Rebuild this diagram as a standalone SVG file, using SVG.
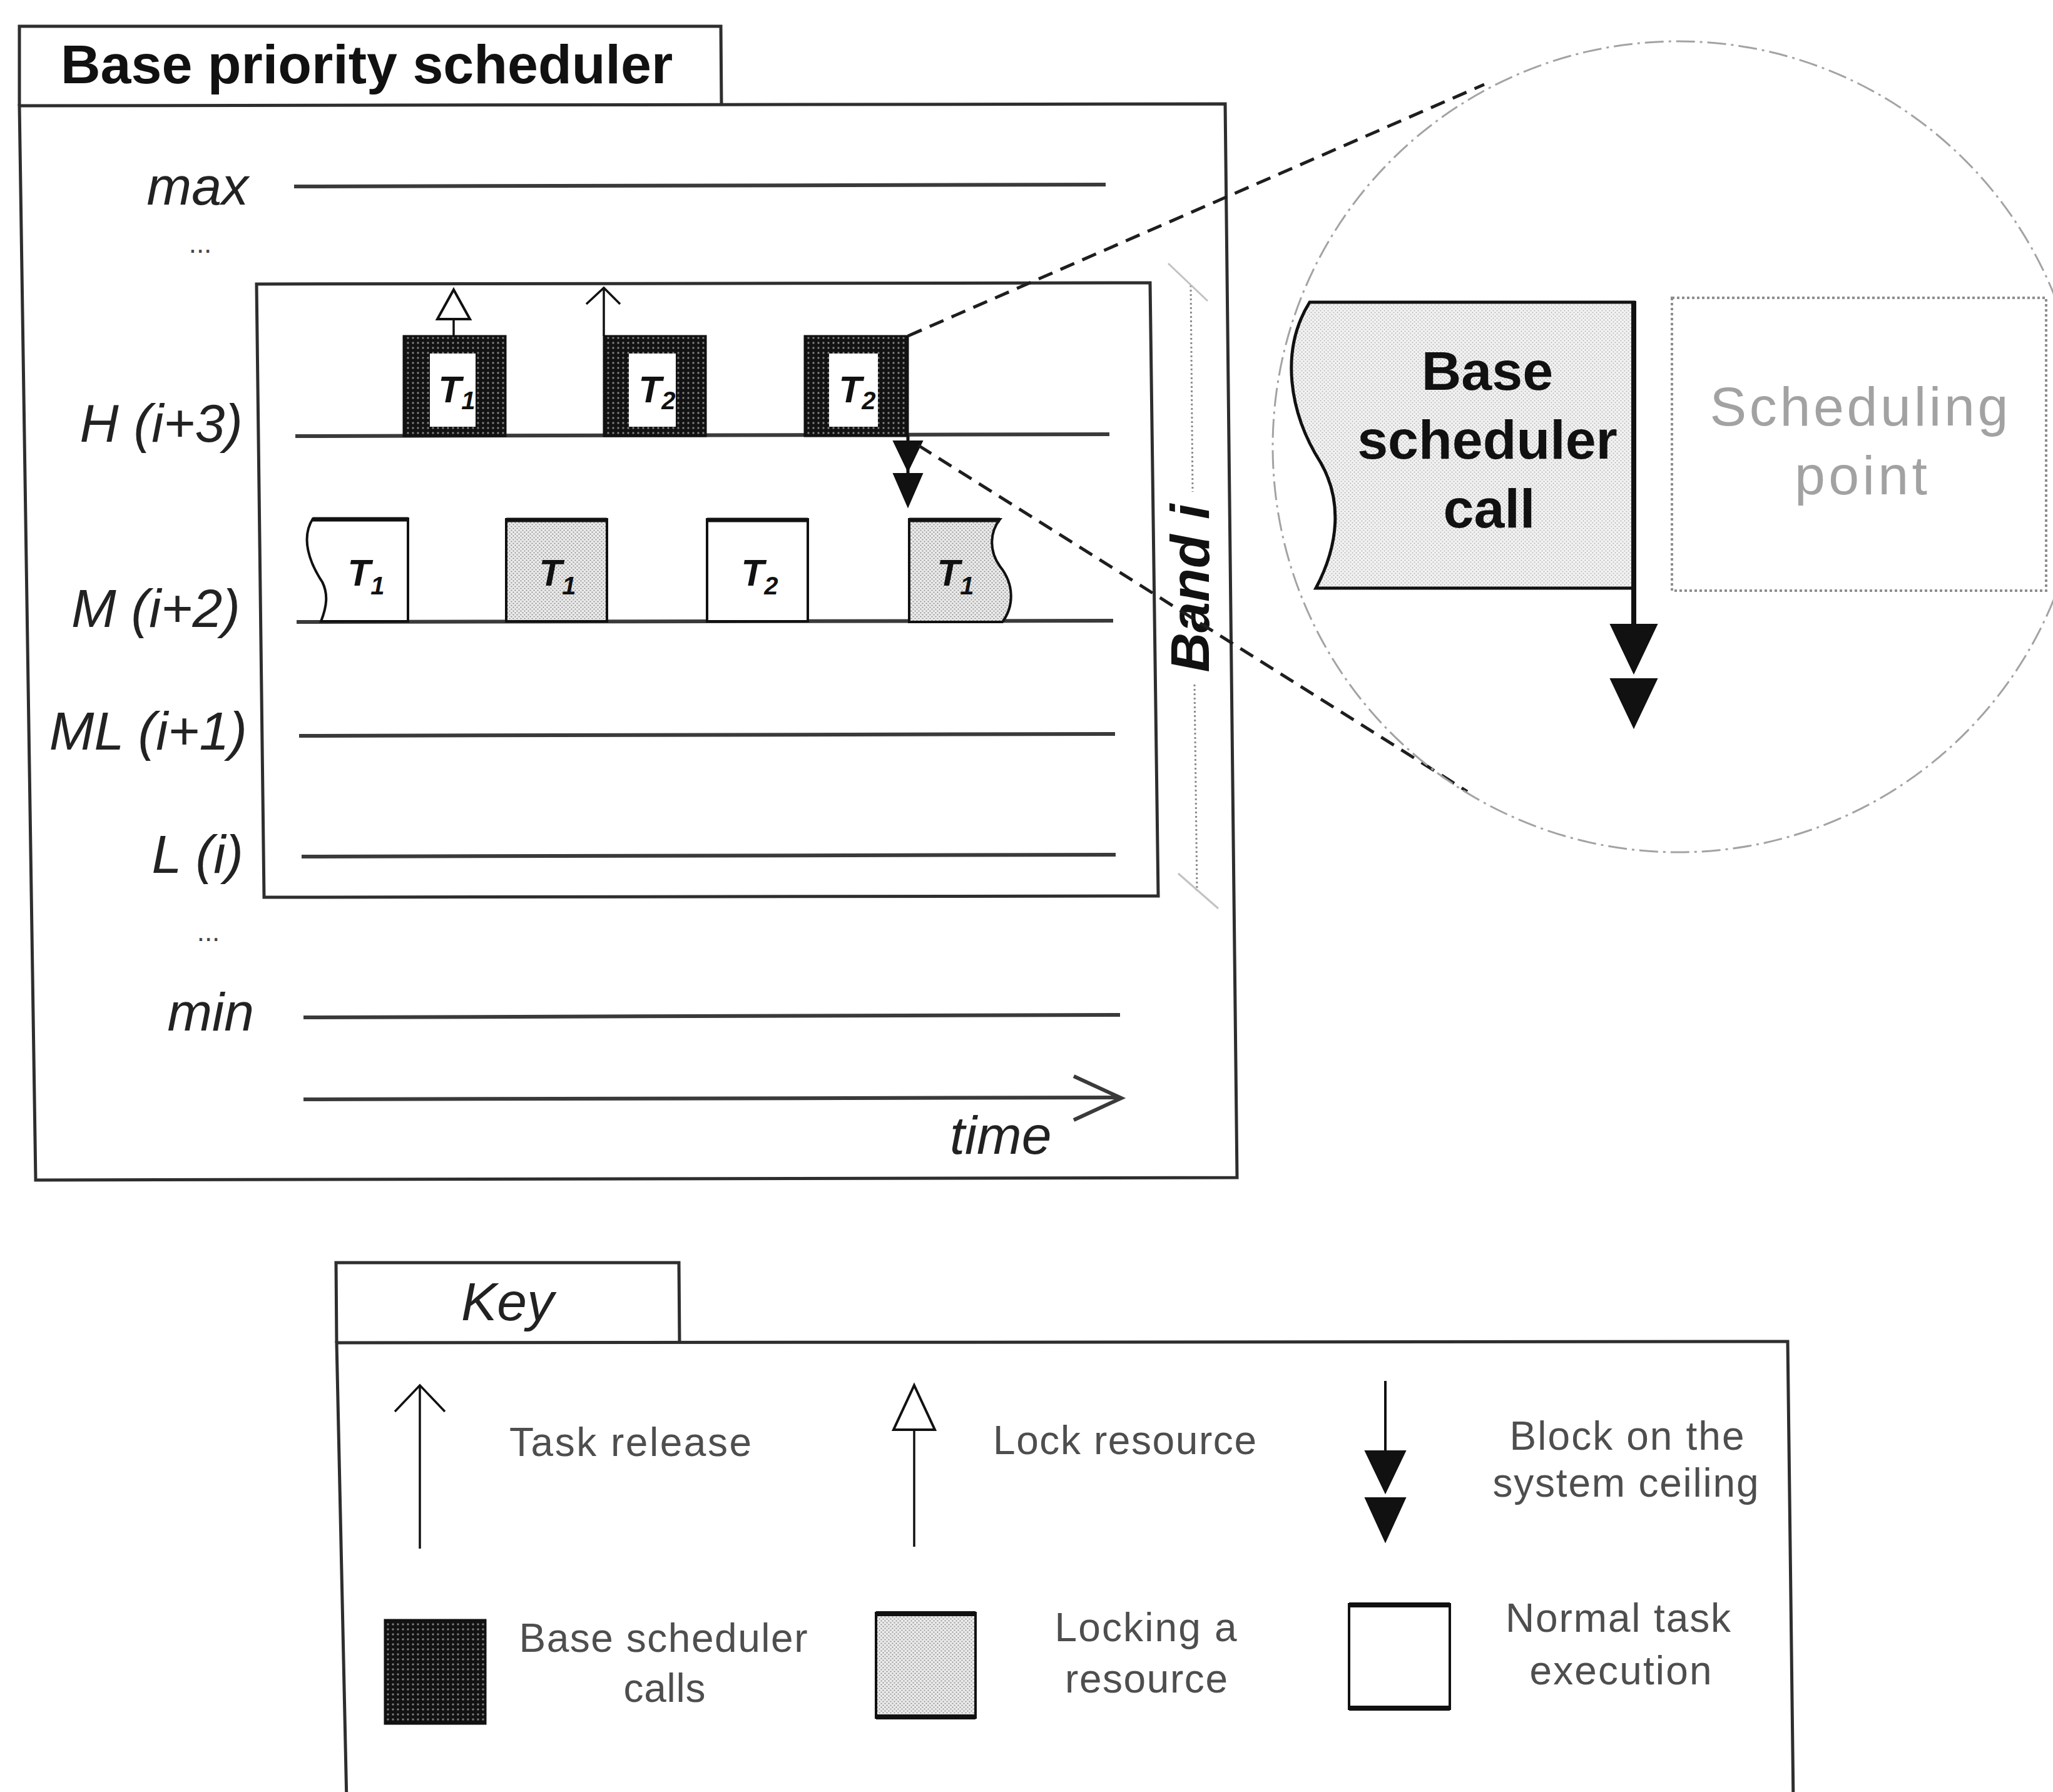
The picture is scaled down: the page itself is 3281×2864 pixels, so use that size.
<svg xmlns="http://www.w3.org/2000/svg" width="3281" height="2864" viewBox="0 0 3281 2864">
<defs>
<pattern id="dark" width="8" height="8" patternUnits="userSpaceOnUse"><rect width="8" height="8" fill="#121212"/><circle cx="4" cy="4" r="1.7" fill="#808080"/></pattern>
<pattern id="light" width="6" height="6" patternUnits="userSpaceOnUse"><rect width="6" height="6" fill="#eaeaea"/><circle cx="1.5" cy="1.5" r="1.1" fill="#8e8e8e"/><circle cx="4.5" cy="4.5" r="1.1" fill="#8e8e8e"/></pattern>
<pattern id="light2" width="6" height="6" patternUnits="userSpaceOnUse"><rect width="6" height="6" fill="#f2f2f2"/><circle cx="1.5" cy="1.5" r="1" fill="#b2b2b2"/><circle cx="4.5" cy="4.5" r="1" fill="#b2b2b2"/></pattern>
<style>
.frame{fill:none;stroke:#2e2e2e;stroke-width:5;stroke-linejoin:miter}
.level{stroke:#3a3a3a;stroke-width:6;fill:none}
.lab{font-family:"Liberation Sans",Arial,sans-serif;font-style:italic;font-size:86px;fill:#222}
.dots{font-family:"Liberation Sans",Arial,sans-serif;font-size:44px;fill:#444;text-anchor:middle}
.task{font-family:"Liberation Sans",Arial,sans-serif;font-style:italic;font-weight:bold;font-size:60px;fill:#111;text-anchor:middle}
.sub{font-size:40px}
.bold{font-family:"Liberation Sans",Arial,sans-serif;font-weight:bold;font-size:88px;fill:#111}
.key{font-family:"Liberation Sans",Arial,sans-serif;font-size:64px;fill:#4e4e4e}
.thin{stroke:#111;stroke-width:3.5;fill:none}
.dash{stroke:#1e1e1e;stroke-width:5;stroke-dasharray:24 14;fill:none}
.blk{fill:#111;stroke:#111;stroke-width:2}
.open{fill:#fff;stroke:#111;stroke-width:4}
</style>
</defs>
<rect width="3281" height="2864" fill="#fff"/>

<g id="scheduler-frame">
<polygon class="frame" points="31,169 1958,166 1977,1882 57,1886"/>
<polyline class="frame" points="31,169 31,42 1152,42 1153,168"/>
<text class="bold" x="97" y="133">Base priority scheduler</text>
</g>

<g id="levels">
<line class="level" x1="470" y1="298" x2="1767" y2="295"/>
<line class="level" x1="472" y1="697" x2="1773" y2="694"/>
<line class="level" x1="474" y1="994" x2="1779" y2="992"/>
<line class="level" x1="478" y1="1176" x2="1782" y2="1173"/>
<line class="level" x1="482" y1="1369" x2="1783" y2="1366"/>
<line class="level" x1="485" y1="1626" x2="1790" y2="1622"/>
<text class="lab" x="397" y="327" text-anchor="end">max</text>
<text class="dots" x="320" y="404">...</text>
<text class="lab" x="388" y="706" text-anchor="end">H (i+3)</text>
<text class="lab" x="384" y="1002" text-anchor="end">M (i+2)</text>
<text class="lab" x="395" y="1198" text-anchor="end">ML (i+1)</text>
<text class="lab" x="389" y="1395" text-anchor="end">L (i)</text>
<text class="dots" x="333" y="1504">...</text>
<text class="lab" x="406" y="1647" text-anchor="end">min</text>
</g>

<g id="time-axis">
<line class="level" x1="485" y1="1757" x2="1790" y2="1754"/>
<polyline points="1716,1720 1792,1755 1716,1790" fill="none" stroke="#3a3a3a" stroke-width="6"/>
<text class="lab" x="1518" y="1844">time</text>
</g>

<g id="band-i">
<polygon class="frame" points="410,454 1838,452 1851,1432 422,1434"/>
<line x1="1903" y1="456" x2="1906" y2="786" stroke="#8c8c8c" stroke-width="3" stroke-dasharray="3 4"/>
<line x1="1909" y1="1094" x2="1913" y2="1424" stroke="#8c8c8c" stroke-width="3" stroke-dasharray="3 4"/>
<line x1="1867" y1="421" x2="1930" y2="481" stroke="#c2c2c2" stroke-width="3"/>
<line x1="1883" y1="1396" x2="1947" y2="1452" stroke="#c2c2c2" stroke-width="3"/>
<text class="bold" font-style="italic" font-size="86" transform="translate(1932,940) rotate(-90)" text-anchor="middle">Band i</text>
</g>

<g id="h-task1">
<rect x="645" y="537" width="163" height="160" fill="url(#dark)" stroke="#111" stroke-width="3"/>
<rect x="687" y="565" width="73" height="117" fill="#fff"/>
<text class="task" x="730" y="643">T<tspan class="sub" dy="11">1</tspan></text>
</g>
<g id="h-task2">
<rect x="965" y="537" width="163" height="160" fill="url(#dark)" stroke="#111" stroke-width="3"/>
<rect x="1005" y="565" width="75" height="117" fill="#fff"/>
<text class="task" x="1050" y="643">T<tspan class="sub" dy="11">2</tspan></text>
</g>
<g id="h-task3">
<rect x="1286" y="537" width="165" height="160" fill="url(#dark)" stroke="#111" stroke-width="3"/>
<rect x="1325" y="565" width="78" height="117" fill="#fff"/>
<text class="task" x="1370" y="643">T<tspan class="sub" dy="11">2</tspan></text>
</g>

<g id="m-task1">
<path d="M500,829 L652,829 L652,993 L513,993 C522,970 525,950 515,930 C495,900 480,860 500,829 Z" fill="#fff" stroke="#111" stroke-width="4"/>
<line x1="500" y1="830" x2="652" y2="830" stroke="#111" stroke-width="7"/>
<text class="task" x="585" y="936">T<tspan class="sub" dy="14">1</tspan></text>
</g>
<g id="m-task2">
<rect x="809" y="830" width="161" height="163" fill="url(#light)" stroke="#111" stroke-width="4"/>
<line x1="809" y1="831" x2="970" y2="831" stroke="#111" stroke-width="7"/>
<text class="task" x="891" y="936">T<tspan class="sub" dy="14">1</tspan></text>
</g>
<g id="m-task3">
<rect x="1130" y="830" width="161" height="163" fill="#fff" stroke="#111" stroke-width="4"/>
<line x1="1130" y1="831" x2="1291" y2="831" stroke="#111" stroke-width="7"/>
<text class="task" x="1214" y="936">T<tspan class="sub" dy="14">2</tspan></text>
</g>
<g id="m-task4">
<path d="M1453,830 L1598,830 C1582,850 1580,880 1598,905 C1622,935 1620,970 1602,994 L1453,994 Z" fill="url(#light)" stroke="#111" stroke-width="4"/>
<line x1="1453" y1="831" x2="1598" y2="831" stroke="#111" stroke-width="7"/>
<text class="task" x="1527" y="936">T<tspan class="sub" dy="14">1</tspan></text>
</g>

<g id="connectors">
<line class="thin" x1="725" y1="537" x2="725" y2="510"/>
<polygon class="open" points="725,463 751,510 699,510"/>
<line class="thin" x1="965" y1="537" x2="965" y2="460"/>
<polyline class="thin" points="937,486 965,460 991,486"/>
<line x1="1451" y1="697" x2="1451" y2="760" stroke="#111" stroke-width="5"/>
<polygon class="blk" points="1428,705 1474,705 1451,753"/>
<polygon class="blk" points="1428,757 1474,757 1451,810"/>
<line class="dash" x1="1451" y1="537" x2="2372" y2="135"/>
<line class="dash" x1="1468" y1="712" x2="2345" y2="1265"/>
</g>

<g id="zoom-circle">
<circle cx="2682" cy="714" r="648" fill="none" stroke="#a3a3a3" stroke-width="3" stroke-dasharray="30 8 4 8"/>
</g>

<g id="base-scheduler-call">
<path d="M2093,483 L2611,483 L2611,940 L2103,940 C2140,870 2145,800 2111,740 C2060,660 2045,560 2093,483 Z" fill="url(#light2)" stroke="#111" stroke-width="5"/>
<line x1="2611" y1="481" x2="2611" y2="1000" stroke="#111" stroke-width="8"/>
<polygon class="blk" points="2574,998 2648,998 2611,1076"/>
<polygon class="blk" points="2574,1085 2648,1085 2611,1163"/>
<text class="bold" x="2377" y="623" text-anchor="middle">Base</text>
<text class="bold" x="2377" y="733" text-anchor="middle">scheduler</text>
<text class="bold" x="2380" y="843" text-anchor="middle">call</text>
</g>

<g id="scheduling-point">
<rect x="2672" y="476" width="598" height="468" fill="none" stroke="#8e8e8e" stroke-width="4" stroke-dasharray="4 4"/>
<text x="2971" y="680" text-anchor="middle" font-family="Liberation Sans, Arial, sans-serif" font-size="88" fill="#a2a2a2" textLength="477">Scheduling</text>
<text x="2974" y="790" text-anchor="middle" font-family="Liberation Sans, Arial, sans-serif" font-size="88" fill="#a2a2a2" textLength="212">point</text>
</g>

<g id="key-frame">
<polyline class="frame" points="538,2146 537,2018 1085,2018 1086,2146"/>
<path class="frame" d="M554,2880 L538,2146 L2857,2144 L2866,2880"/>
<text class="lab" x="737" y="2110">Key</text>
</g>

<g id="key-task-release">
<line class="thin" x1="671" y1="2475" x2="671" y2="2214"/>
<polyline class="thin" points="631,2256 671,2214 711,2256"/>
<text class="key" x="814" y="2327" textLength="387">Task release</text>
</g>
<g id="key-lock-resource">
<line class="thin" x1="1461" y1="2472" x2="1461" y2="2285"/>
<polygon class="open" points="1461,2214 1494,2285 1428,2285"/>
<text class="key" x="1587" y="2324" textLength="421">Lock resource</text>
</g>
<g id="key-block">
<line x1="2214" y1="2207" x2="2214" y2="2325" stroke="#111" stroke-width="4"/>
<polygon class="blk" points="2182,2319 2246,2319 2214,2386"/>
<polygon class="blk" points="2182,2394 2246,2394 2214,2464"/>
<text class="key" x="2600" y="2317" text-anchor="middle" textLength="375">Block on the</text>
<text class="key" x="2598" y="2392" text-anchor="middle" textLength="425">system ceiling</text>
</g>
<g id="key-base-calls">
<rect x="615" y="2589" width="161" height="166" fill="url(#dark)" stroke="#111" stroke-width="3"/>
<text class="key" x="1060" y="2640" text-anchor="middle" textLength="461">Base scheduler</text>
<text class="key" x="1062" y="2720" text-anchor="middle" textLength="131">calls</text>
</g>
<g id="key-locking">
<rect x="1400" y="2578" width="159" height="167" fill="url(#light)" stroke="#111" stroke-width="4"/>
<line x1="1400" y1="2579" x2="1559" y2="2579" stroke="#111" stroke-width="8"/>
<line x1="1400" y1="2744" x2="1559" y2="2744" stroke="#111" stroke-width="8"/>
<text class="key" x="1831" y="2623" text-anchor="middle" textLength="291">Locking a</text>
<text class="key" x="1832" y="2705" text-anchor="middle" textLength="260">resource</text>
</g>
<g id="key-normal">
<rect x="2156" y="2564" width="161" height="167" fill="#fff" stroke="#111" stroke-width="4"/>
<line x1="2156" y1="2565" x2="2317" y2="2565" stroke="#111" stroke-width="8"/>
<line x1="2156" y1="2730" x2="2317" y2="2730" stroke="#111" stroke-width="8"/>
<text class="key" x="2586" y="2608" text-anchor="middle" textLength="360">Normal task</text>
<text class="key" x="2590" y="2692" text-anchor="middle" textLength="291">execution</text>
</g>
</svg>
